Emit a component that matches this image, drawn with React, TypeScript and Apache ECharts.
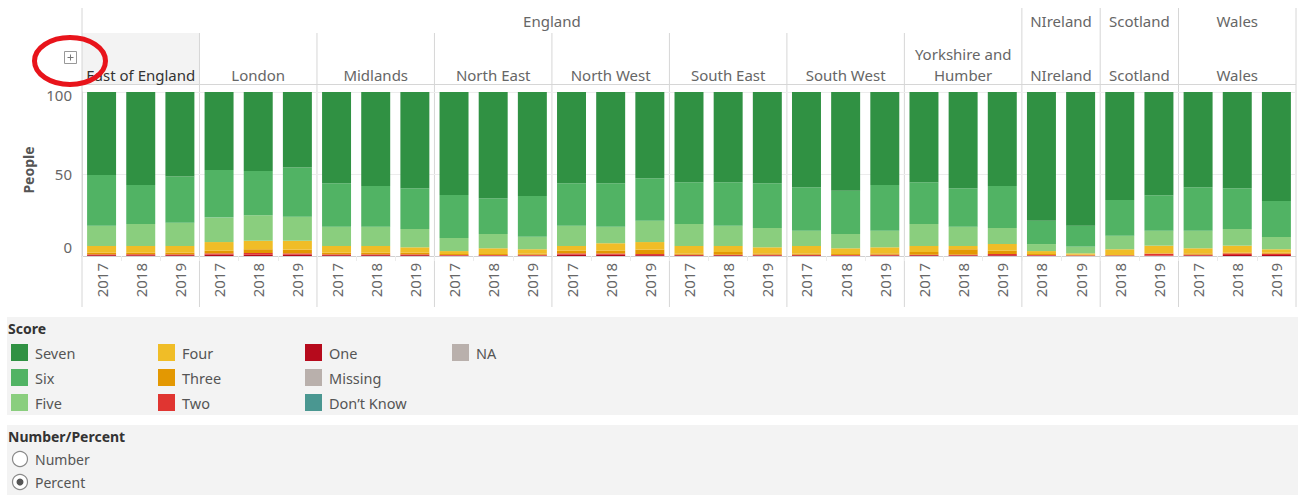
import React, { useEffect, useRef } from "react";
import * as echarts from "echarts";

const FONT = "'Noto Sans', sans-serif";

const regionNames = ["East of England", "London", "Midlands", "North East", "North West", "South East", "South West", "Yorkshire and Humber", "NIreland", "Scotland", "Wales"];
const regionHeaderLabels = ["East of England", "London", "Midlands", "North East", "North West", "South East", "South West", "Yorkshire and\nHumber", "NIreland", "Scotland", "Wales"];
const regionCountries = ["England", "England", "England", "England", "England", "England", "England", "England", "NIreland", "Scotland", "Wales"];
const regionYears = [
  ["2017", "2018", "2019"], ["2017", "2018", "2019"], ["2017", "2018", "2019"], ["2017", "2018", "2019"],
  ["2017", "2018", "2019"], ["2017", "2018", "2019"], ["2017", "2018", "2019"], ["2017", "2018", "2019"],
  ["2018", "2019"], ["2018", "2019"], ["2017", "2018", "2019"],
];
const yTicks = [0, 50, 100];

// Percent of people per score, one value per bar (31 bars, order as categories)
const one = [0.5, 0.5, 0.5, 0.8, 0.8, 0.8, 0.5, 0.5, 0.5, 0.3, 0.3, 0.3, 0.8, 0.8, 0.5, 0.4, 0.4, 0.4, 0.4, 0.3, 0.4, 0.4, 0.4, 0.5, 0.3, 0.2, 0.2, 0.2, 0.4, 0.6, 0.6];
const two = [0.5, 0.5, 0.5, 0.8, 1.0, 0.8, 0.5, 0.5, 0.5, 0.3, 0.3, 0.5, 0.8, 0.8, 0.7, 0.4, 0.4, 0.4, 0.4, 0.3, 0.4, 0.4, 0.4, 0.7, 0.3, 0.2, 0.2, 1.2, 0.4, 1.0, 0.8];
const three = [1.0, 1.0, 1.0, 1.6, 2.3, 2.3, 1.0, 1.0, 1.0, 0.6, 0.6, 0.8, 1.6, 1.6, 2.7, 0.8, 1.6, 0.8, 0.8, 0.6, 0.8, 1.6, 3.3, 2.0, 0.6, 0.4, 0.2, 0.2, 0.8, 0.4, 0.6];
const four = [4.1, 4.1, 4.1, 5.3, 5.2, 5.4, 4.1, 4.1, 3.3, 1.8, 3.5, 2.5, 2.9, 4.5, 4.6, 4.5, 3.7, 3.7, 4.5, 3.5, 3.7, 3.7, 2.0, 4.1, 1.8, 0.8, 3.5, 4.7, 3.1, 4.3, 2.1];
const five = [12.4, 13.4, 14.2, 14.9, 15.5, 14.7, 11.8, 11.8, 11.2, 8.0, 8.7, 7.7, 12.4, 10.2, 13.0, 13.4, 12.4, 11.8, 9.3, 8.7, 10.1, 13.4, 11.8, 9.8, 4.3, 4.1, 8.3, 9.1, 10.7, 10.2, 7.5];
const six = [30.9, 23.8, 28.1, 29.0, 27.0, 29.9, 26.4, 24.8, 24.8, 26.2, 21.8, 24.8, 25.8, 26.4, 25.9, 25.4, 26.4, 27.2, 26.5, 26.4, 27.9, 25.4, 23.4, 25.6, 14.2, 12.8, 21.7, 21.6, 26.5, 24.8, 21.9];
const seven = [50.6, 56.7, 51.6, 47.6, 48.2, 46.1, 55.7, 57.3, 58.7, 62.8, 64.8, 63.4, 55.7, 55.7, 52.6, 55.1, 55.1, 55.7, 58.1, 60.2, 56.7, 55.1, 58.7, 57.3, 78.5, 81.5, 65.9, 63.0, 58.1, 58.7, 66.5];
const missing: number[] = [];
const dontKnow: number[] = [];
const na: number[] = [];

const scoreSeries = [
  { name: "One", data: one, color: "#b60a1c" },
  { name: "Two", data: two, color: "#e03531" },
  { name: "Three", data: three, color: "#e39802" },
  { name: "Four", data: four, color: "#f0bd27" },
  { name: "Five", data: five, color: "#8ace7e" },
  { name: "Six", data: six, color: "#51b364" },
  { name: "Seven", data: seven, color: "#309143" },
  { name: "Missing", data: missing, color: "#b9b0ac" },
  { name: "Don’t Know", data: dontKnow, color: "#4a9791" },
  { name: "NA", data: na, color: "#b9b0ac" },
];
const legendColumns = [
  ["Seven", "Six", "Five"],
  ["Four", "Three", "Two"],
  ["One", "Missing", "Don’t Know"],
  ["NA"],
];
const legendLeft = [11, 158, 305, 452];

export default function App() {
  const ref = useRef<HTMLDivElement>(null);
  useEffect(() => {
    if (!ref.current) return;
    const chart = echarts.init(ref.current, null, { renderer: "svg" });

    const categories: string[] = [];
    const groupIdx: number[][] = [];
    regionNames.forEach((r, i) => {
      const idx: number[] = [];
      regionYears[i].forEach((y) => {
        idx.push(categories.length);
        categories.push(r + "|" + y);
      });
      groupIdx.push(idx);
    });

    const option: any = {
      animation: false,
      textStyle: { fontFamily: FONT },
      grid: { left: 82, right: 2, top: 92, bottom: 239, containLabel: false },
      xAxis: {
        type: "category",
        data: categories,
        axisLine: { show: true, lineStyle: { color: "#d0d0d0" } },
        axisTick: { show: true, length: 5, lineStyle: { color: "#ececec" } },
        axisLabel: {
          rotate: 90,
          margin: 7,
          color: "#666",
          fontSize: 15,
          fontFamily: FONT,
          interval: 0,
          formatter: (v: string) => v.split("|")[1],
        },
        splitLine: { show: false },
      },
      yAxis: {
        type: "value",
        min: 0,
        max: 100,
        interval: 50,
        axisLine: { show: true, lineStyle: { color: "#d4d4d4" } },
        axisTick: { show: false },
        axisLabel: { show: false },
        splitLine: { show: true, lineStyle: { color: "#ececec" } },
      },
      legend: legendColumns.map((col, i) => ({
        data: col,
        orient: "vertical",
        left: legendLeft[i],
        top: 344,
        padding: 0,
        itemWidth: 17,
        itemHeight: 17,
        itemGap: 8,
        icon: "rect",
        selectedMode: false,
        textStyle: { color: "#555", fontSize: 14.5, fontFamily: FONT, padding: [0, 0, 0, 2] },
      })),
      series: scoreSeries.map((s) => ({
        name: s.name,
        type: "bar",
        stack: "score",
        data: s.data,
        barCategoryGap: "26%",
        itemStyle: { color: s.color },
        emphasis: { disabled: true },
      })),
    };
    chart.setOption(option);

    const px = categories.map((c) => chart.convertToPixel({ xAxisIndex: 0 }, c) as number);
    const half = (px[1] - px[0]) / 2;
    const yTop = chart.convertToPixel({ yAxisIndex: 0 }, 100) as number;
    const yBase = chart.convertToPixel({ yAxisIndex: 0 }, 0) as number;
    const headerTop = 8;
    const regionTop = 33;
    const headerBottom = yTop - 7.5;
    const dividerBottom = yBase + 51;
    const lineColor = "#d6d6d6";

    const g: any[] = [];
    // panels
    g.push({ type: "rect", z: -10, shape: { x: 7, y: 317, width: 1291, height: 98 }, style: { fill: "#f3f3f3" } });
    g.push({ type: "rect", z: -10, shape: { x: 7, y: 425, width: 1291, height: 70 }, style: { fill: "#f3f3f3" } });
    g.push({ type: "text", x: 8, y: 328, style: { text: "Score", fill: "#333", fontSize: 14, fontWeight: "bold", fontFamily: FONT, verticalAlign: "middle" } });
    g.push({ type: "text", x: 8, y: 436, style: { text: "Number/Percent", fill: "#333", fontSize: 14, fontWeight: "bold", fontFamily: FONT, verticalAlign: "middle" } });
    g.push({ type: "circle", shape: { cx: 20, cy: 459, r: 7.5 }, style: { fill: "#fff", stroke: "#8a8a8a", lineWidth: 1.2 } });
    g.push({ type: "circle", shape: { cx: 20, cy: 482, r: 7.5 }, style: { fill: "#fff", stroke: "#8a8a8a", lineWidth: 1.2 } });
    g.push({ type: "circle", shape: { cx: 20, cy: 482, r: 3.5 }, style: { fill: "#555" } });
    g.push({ type: "text", x: 35, y: 459, style: { text: "Number", fill: "#555", fontSize: 14, fontFamily: FONT, verticalAlign: "middle" } });
    g.push({ type: "text", x: 35, y: 482, style: { text: "Percent", fill: "#555", fontSize: 14, fontFamily: FONT, verticalAlign: "middle" } });

    // y axis labels and title
    yTicks.forEach((v) => {
      const py = chart.convertToPixel({ yAxisIndex: 0 }, v) as number;
      const ty = Math.min(Math.max(py, yTop + 3), yBase - 9);
      g.push({ type: "text", x: 72, y: ty, style: { text: String(v), fill: "#666", fontSize: 15, fontFamily: FONT, align: "right", verticalAlign: "middle" } });
    });
    g.push({ type: "text", x: 28, y: (yTop + yBase) / 2 - 4, rotation: Math.PI / 2, style: { text: "People", fill: "#555", fontSize: 14, fontWeight: "bold", fontFamily: FONT, align: "center", verticalAlign: "middle" } });

    // region headers
    groupIdx.forEach((idx, i) => {
      const x0 = px[idx[0]] - half;
      const x1 = px[idx[idx.length - 1]] + half;
      if (i === 0) {
        g.push({ type: "rect", z: -5, shape: { x: x0, y: regionTop, width: x1 - x0, height: headerBottom - regionTop }, style: { fill: "#f3f3f3" } });
      }
      g.push({
        type: "text", x: (x0 + x1) / 2, y: headerBottom + 1, style: {
          text: regionHeaderLabels[i], fill: i === 0 ? "#333" : "#666", fontSize: 15, fontFamily: FONT,
          align: "center", verticalAlign: "bottom", lineHeight: 21,
        },
      });
      const prevCountry = i > 0 ? regionCountries[i - 1] : null;
      const startsCountry = prevCountry !== regionCountries[i];
      g.push({ type: "line", z: -3, shape: { x1: x0, y1: startsCountry ? headerTop : regionTop, x2: x0, y2: dividerBottom }, style: { stroke: lineColor, lineWidth: 1 } });
      if (i === groupIdx.length - 1) {
        g.push({ type: "line", z: -3, shape: { x1: x1, y1: headerTop, x2: x1, y2: dividerBottom }, style: { stroke: lineColor, lineWidth: 1 } });
      }
    });
    // country headers
    const countries: string[] = [];
    regionCountries.forEach((c) => { if (!countries.includes(c)) countries.push(c); });
    countries.forEach((c) => {
      const regs = regionCountries.map((rc, i) => (rc === c ? i : -1)).filter((i) => i >= 0);
      const first = groupIdx[regs[0]][0];
      const lastG = groupIdx[regs[regs.length - 1]];
      const last = lastG[lastG.length - 1];
      const x0 = px[first] - half;
      const x1 = px[last] + half;
      g.push({ type: "text", x: (x0 + x1) / 2, y: 21, style: { text: c, fill: "#666", fontSize: 15, fontFamily: FONT, align: "center", verticalAlign: "middle" } });
    });
    const plotLeft = px[0] - half;
    const plotRight = px[px.length - 1] + half;
    g.push({ type: "line", z: -3, shape: { x1: plotLeft, y1: headerBottom, x2: plotRight, y2: headerBottom }, style: { stroke: lineColor, lineWidth: 1 } });

    // expand icon and red annotation ellipse
    g.push({ type: "rect", shape: { x: 64.5, y: 51.5, width: 12, height: 12 }, style: { fill: "#fff", stroke: "#999", lineWidth: 1 } });
    g.push({ type: "line", shape: { x1: 67.5, y1: 57.5, x2: 73.5, y2: 57.5 }, style: { stroke: "#777", lineWidth: 1 } });
    g.push({ type: "line", shape: { x1: 70.5, y1: 54.5, x2: 70.5, y2: 60.5 }, style: { stroke: "#777", lineWidth: 1 } });
    g.push({ type: "ellipse", z: 50, shape: { cx: 70, cy: 61, rx: 35.5, ry: 23.5 }, style: { fill: "none", stroke: "#e8141b", lineWidth: 5 } });

    chart.setOption({ graphic: g });

    return () => chart.dispose();
  }, []);
  return <div ref={ref} style={{ position: "absolute", left: 0, top: 0, width: 1298, height: 495 }} />;
}
